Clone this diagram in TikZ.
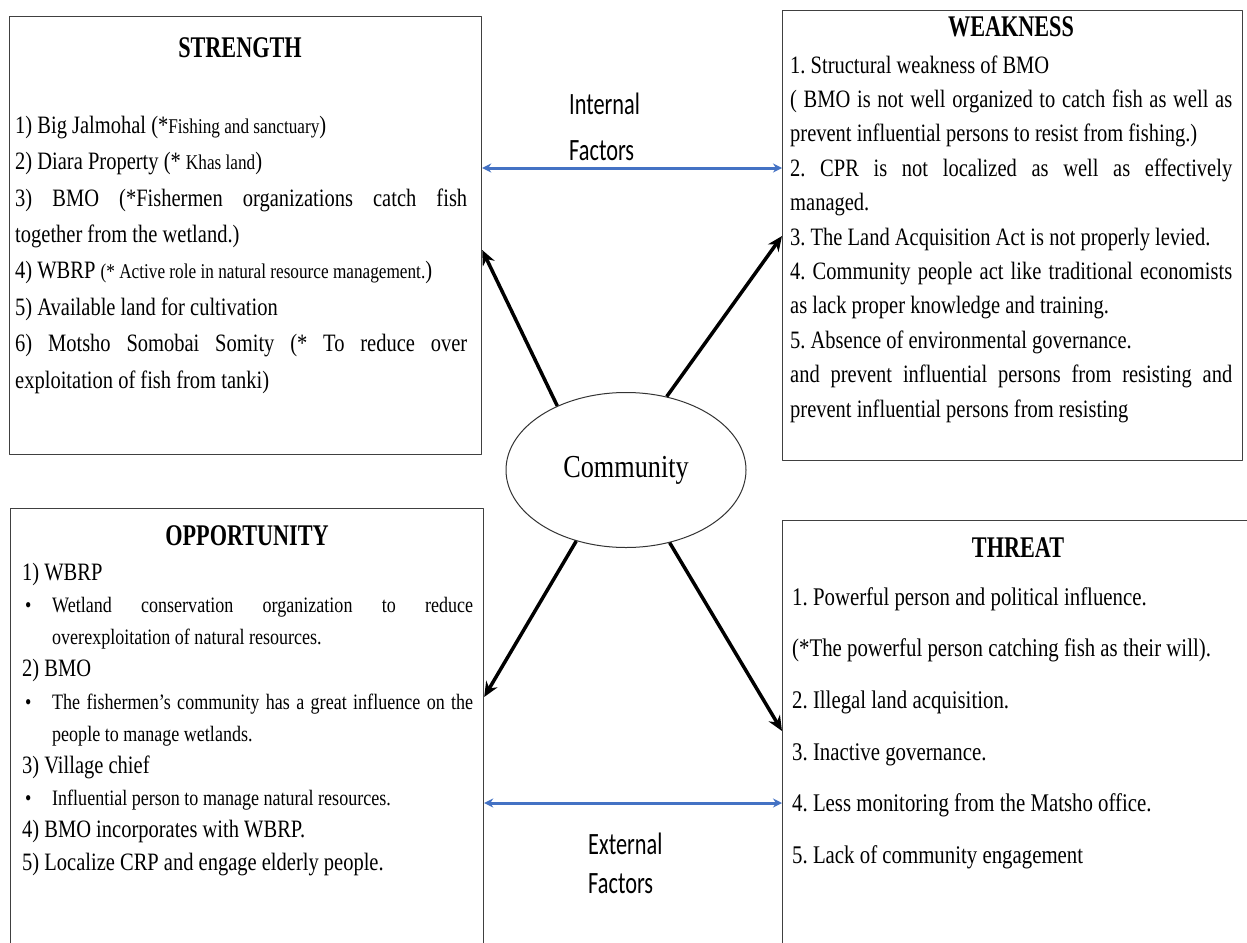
\documentclass[tikz,border=0pt]{standalone}
\usepackage{fontspec}
\setmainfont{Liberation Serif}[FakeStretch=0.82]
\newfontfamily\swottitle{Liberation Serif}[FakeStretch=0.74]
\newfontfamily\factorfont{Carlito}[FakeStretch=0.72]
\usetikzlibrary{arrows.meta,calc,positioning,shapes.geometric}
\definecolor{facblue}{HTML}{4472C4}
\frenchspacing
\newcommand{\swotstrut}{\rule{0pt}{20pt}}
\newcommand{\smalltxt}[1]{{\fontsize{21}{30}\selectfont #1}}
\newcommand{\swotbullet}{\par\hangindent=30pt\hangafter=1\noindent\hbox to 30pt{\hspace{3pt}\textbullet\hfil}}
\tikzset{
  swotbox/.style={draw=black!75, line width=1.2pt, inner sep=0pt, anchor=north west},
  boxtitle/.style={anchor=base, inner sep=0pt, font=\swottitle\bfseries\fontsize{30}{36}\selectfont},
  boxtext/.style={anchor=north west, inner sep=0pt, align=justify},
  push/.style={line width=3.5pt, -{Stealth[length=15pt,width=13pt]}},
  factor/.style={draw=facblue, line width=3pt, {Stealth[length=9pt,width=9pt]}-{Stealth[length=9pt,width=9pt]}},
  every picture/.style={line cap=butt, line join=round}
}

\begin{document}
\begin{tikzpicture}[x=1pt,y=-1pt]
  \fill[white] (0,0) rectangle (1247,942);
  \useasboundingbox (0,0) rectangle (1247,942);

  % Boxes
  \node[swotbox, minimum width=472pt, minimum height=438pt] (strength) at (9,16) {};
  \node[swotbox, minimum width=460pt, minimum height=450pt] (weakness) at (782,10) {};
  \node[swotbox, minimum width=473pt, minimum height=450pt] (opportunity) at (10,508) {};
  \node[swotbox, minimum width=480pt, minimum height=440pt] (threat) at (782,520) {};

  % Strength
  \node[boxtitle] (strtitle) at (240,57) {STRENGTH};
  \node[boxtext, text width=452pt, font=\fontsize{25}{36.4}\selectfont] (strtext) at (15,113) {%
    \swotstrut 1) Big Jalmohal (*\smalltxt{Fishing and sanctuary})\par
    2) Diara Property (* \smalltxt{Khas land})\par
    3) BMO (*Fishermen organizations catch fish\linebreak
    together from the wetland.)\par
    4) WBRP \smalltxt{(* Active role in natural resource management.})\par
    5) Available land for cultivation\par
    6) Motsho Somobai Somity (* To reduce over\linebreak
    exploitation of fish from tanki)\par};

  % Weakness
  \node[boxtitle] (weaktitle) at (1011,37) {WEAKNESS};
  \node[boxtext, text width=442pt, font=\fontsize{25}{34.4}\selectfont] (weaktext) at (790,53) {%
    \swotstrut 1. Structural weakness of BMO\par
    ( BMO is not well organized to catch fish as well as\linebreak
    prevent influential persons to resist from fishing.)\par
    2. CPR is not localized as well as effectively\linebreak
    managed.\par
    3. The Land Acquisition Act is not properly levied.\par
    4. Community people act like traditional economists\linebreak
    as lack proper knowledge and training.\par
    5. Absence of environmental governance.\par
    and prevent influential persons from resisting and\linebreak
    prevent influential persons from resisting\par};

  % Opportunity
  \node[boxtitle] (opptitle) at (247,545) {OPPORTUNITY};
  \node[boxtext, text width=451pt, font=\fontsize{25}{32.2}\selectfont] (opptext) at (22,560) {%
    \swotstrut 1) WBRP\par
    {\fontsize{22}{32.2}\selectfont\swotbullet Wetland conservation organization to reduce\linebreak
    overexploitation of natural resources.\par}
    2) BMO\par
    {\fontsize{22}{32.2}\selectfont\swotbullet The fishermen’s community has a great influence on the\linebreak
    people to manage wetlands.\par}
    3) Village chief\par
    {\fontsize{22}{32.2}\selectfont\swotbullet Influential person to manage natural resources.\par}
    4) BMO incorporates with WBRP.\par
    5) Localize CRP and engage elderly people.\par};

  % Threat
  \node[boxtitle] (thrtitle) at (1018,557) {THREAT};
  \node[anchor=north west, inner sep=0pt, align=left, font=\fontsize{25.4}{51.6}\selectfont] (thrtext) at (792,585) {%
    \swotstrut 1. Powerful person and political influence.\\
    (*The powerful person catching fish as their will).\\
    2. Illegal land acquisition.\\
    3. Inactive governance.\\
    4. Less monitoring from the Matsho office.\\
    5. Lack of community engagement};

  % Community
  \node[ellipse, draw=black!80, line width=1pt, minimum width=240pt, minimum height=155pt,
        inner sep=0pt, font=\fontsize{32}{38}\selectfont] (comm) at (626,470) {Community};
  \draw[push] (comm.137) -- (strength.east |- 0,250);
  \draw[push] (comm.61) -- (weakness.west |- 0,236);
  \draw[push] (comm.235) -- (opportunity.east |- 0,697);
  \draw[push] (comm.301) -- (threat.west |- 0,731);

  % Factors
  \draw[factor] (strength.east |- 0,168) -- (weakness.west |- 0,168);
  \draw[factor] (opportunity.east |- 0,803) -- (threat.west |- 0,803);
  \node[anchor=north west, inner sep=0pt, align=left, font=\factorfont\fontsize{31}{46}\selectfont] (inlabel) at (569,90) {\rule{0pt}{24pt}Internal\\Factors};
  \node[anchor=north west, inner sep=0pt, align=left, font=\factorfont\fontsize{31}{39}\selectfont] (exlabel) at (588,830) {\rule{0pt}{24pt}External\\Factors};
\end{tikzpicture}
\end{document}
